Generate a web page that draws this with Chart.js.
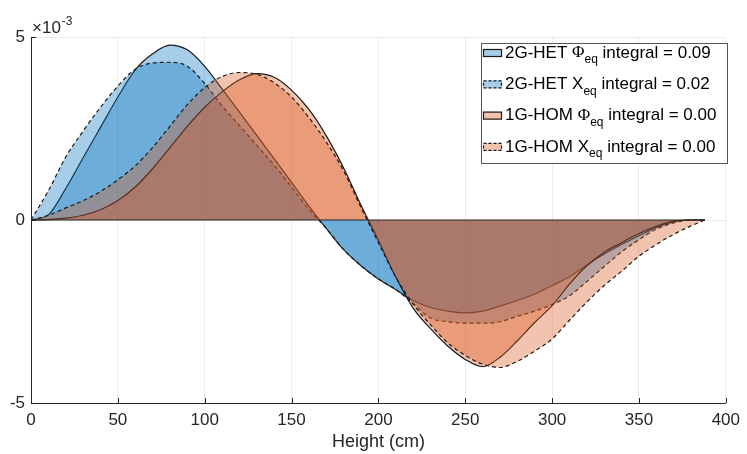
<!DOCTYPE html>
<html>
<head>
<meta charset="utf-8">
<script src="https://cdn.jsdelivr.net/npm/chart.js@4.4.0/dist/chart.umd.min.js"></script>
<style>
  html, body { margin: 0; padding: 0; background: #fff; }
  #wrap { width: 747px; height: 454px; position: relative; }
</style>
</head>
<body>
<div id="wrap"><canvas id="chart"></canvas></div>
<script>
// ===================================
// Data (values in units of 1e-3)
// ===================================
const heights = [0, 10, 20, 30, 40, 50, 60, 70, 80, 90,
  100, 110, 120, 130, 140, 150, 160, 170, 180, 190,
  200, 210, 220, 230, 240, 250, 260, 270, 280, 290,
  300, 310, 320, 330, 340, 350, 360, 370, 380, 388];

const hetPhi = [0, 0.14, 0.86, 1.70, 2.53, 3.36, 4.10, 4.54, 4.78, 4.65,
  4.20, 3.58, 2.95, 2.31, 1.67, 1.03, 0.38, -0.23, -0.81, -1.25,
  -1.61, -1.90, -2.20, -2.39, -2.49, -2.54, -2.49, -2.35, -2.20, -2.02,
  -1.79, -1.55, -1.23, -0.93, -0.67, -0.43, -0.20, -0.05, 0, 0];

const hetX = [0, 0.80, 1.72, 2.43, 3.08, 3.66, 4.12, 4.29, 4.31, 4.20,
  3.73, 3.12, 2.58, 2.04, 1.50, 0.90, 0.29, -0.23, -0.81, -1.25,
  -1.61, -1.90, -2.28, -2.68, -2.78, -2.82, -2.82, -2.78, -2.63, -2.49,
  -2.31, -2.07, -1.68, -1.27, -0.87, -0.54, -0.25, -0.08, 0, 0];

const homPhi = [0, 0.01, 0.05, 0.13, 0.28, 0.53, 0.90, 1.40, 1.98, 2.56,
  3.08, 3.50, 3.83, 4.00, 3.90, 3.55, 3.02, 2.30, 1.42, 0.40,
  -0.56, -1.56, -2.41, -2.97, -3.45, -3.81, -4.01, -3.75, -3.30, -2.80,
  -2.34, -1.75, -1.25, -0.88, -0.62, -0.37, -0.17, -0.03, 0, 0];

const homX = [0, 0.13, 0.33, 0.53, 0.78, 1.10, 1.48, 1.98, 2.56, 3.15,
  3.62, 3.92, 4.03, 3.98, 3.75, 3.36, 2.80, 2.13, 1.34, 0.34,
  -0.62, -1.56, -2.30, -2.86, -3.36, -3.70, -3.94, -4.03, -3.86, -3.58,
  -3.25, -2.74, -2.24, -1.79, -1.40, -0.99, -0.67, -0.39, -0.16, 0];

const seriesNames = ['2G-HET ', '2G-HET ', '1G-HOM ', '1G-HOM '];
const seriesSymbols = ['\u03A6', 'X', '\u03A6', 'X'];
const integrals = ['0.09', '0.02', '0.00', '0.00'];

const xTicks = [0, 50, 100, 150, 200, 250, 300, 350, 400];
const yTicks = [-5, 0, 5];

// ===================================
// Styles
// ===================================
const BLUE = 'rgba(0, 114, 189, 0.35)';
const ORANGE = 'rgba(217, 83, 25, 0.35)';
const INK = '#262626';
const SANS = '"Liberation Sans", Arial, sans-serif';
const SERIF = '"Liberation Serif", "Times New Roman", serif';

function series(values, color, dashed, order) {
  return {
    data: heights.map((h, i) => ({x: h, y: values[i]})),
    borderColor: '#1a1a1a',
    borderWidth: 1.2,
    borderDash: dashed ? [4, 3] : [],
    backgroundColor: color,
    fill: 'origin',
    pointRadius: 0,
    cubicInterpolationMode: 'monotone',
    order: order
  };
}

const legendStyle = [
  {color: BLUE, dashed: false},
  {color: BLUE, dashed: true},
  {color: ORANGE, dashed: false},
  {color: ORANGE, dashed: true}
];

// x10^-3 exponent label, inner tick marks, legend with subscripts
const annotations = {
  id: 'annotations',
  afterDraw(chart) {
    const ctx = chart.ctx;
    const area = chart.chartArea;
    const xs = chart.scales.x, ys = chart.scales.y;
    ctx.save();

    // inner ticks
    ctx.strokeStyle = INK;
    ctx.lineWidth = 1;
    ctx.beginPath();
    xTicks.forEach(v => {
      const px = Math.round(xs.getPixelForValue(v)) + 0.5;
      ctx.moveTo(px, area.bottom);
      ctx.lineTo(px, area.bottom - 5);
    });
    yTicks.forEach(v => {
      const py = Math.round(ys.getPixelForValue(v)) + 0.5;
      ctx.moveTo(area.left, py);
      ctx.lineTo(area.left + 5, py);
    });
    ctx.stroke();

    ctx.fillStyle = INK;
    ctx.textBaseline = 'alphabetic';
    ctx.textAlign = 'left';
    ctx.font = '17px ' + SANS;
    ctx.fillText('\u00D710', area.left + 1, 33);
    const w = ctx.measureText('\u00D710').width;
    ctx.font = '12px ' + SANS;
    ctx.fillText('-3', area.left + 1 + w + 1, 25);

    // legend box
    const bx = 481.5, by = 43.5, bw = 246, bh = 120;
    ctx.fillStyle = '#fff';
    ctx.fillRect(bx, by, bw, bh);
    ctx.strokeStyle = '#555';
    ctx.lineWidth = 1;
    ctx.strokeRect(bx, by, bw, bh);

    legendStyle.forEach((s, i) => {
      const cy = 53 + i * 31.3;
      ctx.fillStyle = '#fff';
      ctx.fillRect(483, cy - 4, 19, 8);
      ctx.fillStyle = s.color;
      ctx.fillRect(483, cy - 4, 19, 8);
      ctx.strokeStyle = '#1a1a1a';
      ctx.lineWidth = 1.2;
      ctx.setLineDash(s.dashed ? [3, 2] : []);
      ctx.strokeRect(483.5, cy - 3.5, 18, 7);
      ctx.setLineDash([]);

      let x = 505;
      ctx.fillStyle = '#000';
      ctx.textBaseline = 'middle';
      ctx.font = '17px ' + SANS;
      ctx.fillText(seriesNames[i], x, cy);
      x += ctx.measureText(seriesNames[i]).width;
      ctx.font = (seriesSymbols[i] === 'X' ? '17px ' + SANS : '17px ' + SERIF);
      ctx.fillText(seriesSymbols[i], x, cy);
      x += ctx.measureText(seriesSymbols[i]).width;
      ctx.font = '12px ' + SANS;
      ctx.fillText('eq', x, cy + 7);
      x += ctx.measureText('eq').width;
      ctx.font = '17px ' + SANS;
      ctx.fillText(' integral = ' + integrals[i], x, cy);
    });
    ctx.restore();
  }
};

const datasets = [
  series(hetPhi, BLUE, false, 4),
  series(hetX, BLUE, true, 3),
  series(homPhi, ORANGE, false, 2),
  series(homX, ORANGE, true, 1),
  {
    data: [{x: 0, y: 0}, {x: 388, y: 0}],
    borderColor: INK,
    borderWidth: 1,
    fill: false,
    pointRadius: 0,
    order: 0
  }
];

new Chart(document.getElementById('chart'), {
  type: 'line',
  data: {datasets: datasets},
  options: {
    responsive: true,
    maintainAspectRatio: false,
    animation: false,
    devicePixelRatio: 1,
    layout: {padding: {left: 0, right: 16, top: 37, bottom: 0}},
    plugins: {
      legend: {display: false},
      tooltip: {enabled: false}
    },
    scales: {
      x: {
        type: 'linear',
        min: 0,
        max: 400,
        afterFit: s => { s.height = 51; },
        afterBuildTicks: s => { s.ticks = xTicks.map(v => ({value: v})); },
        grid: {color: '#ebebeb', drawTicks: false},
        border: {color: INK, width: 1},
        ticks: {color: INK, font: {family: SANS, size: 17}, padding: 7, maxRotation: 0},
        title: {display: true, text: 'Height (cm)', color: INK,
          font: {family: SANS, size: 18}, padding: {top: 0, bottom: 1}}
      },
      y: {
        min: -5,
        max: 5,
        afterFit: s => { s.width = 31; },
        afterBuildTicks: s => { s.ticks = yTicks.map(v => ({value: v})); },
        grid: {color: '#ebebeb', drawTicks: false},
        border: {color: INK, width: 1},
        ticks: {color: INK, font: {family: SANS, size: 17}, padding: 6}
      }
    }
  },
  plugins: [annotations]
});
</script>
</body>
</html>
